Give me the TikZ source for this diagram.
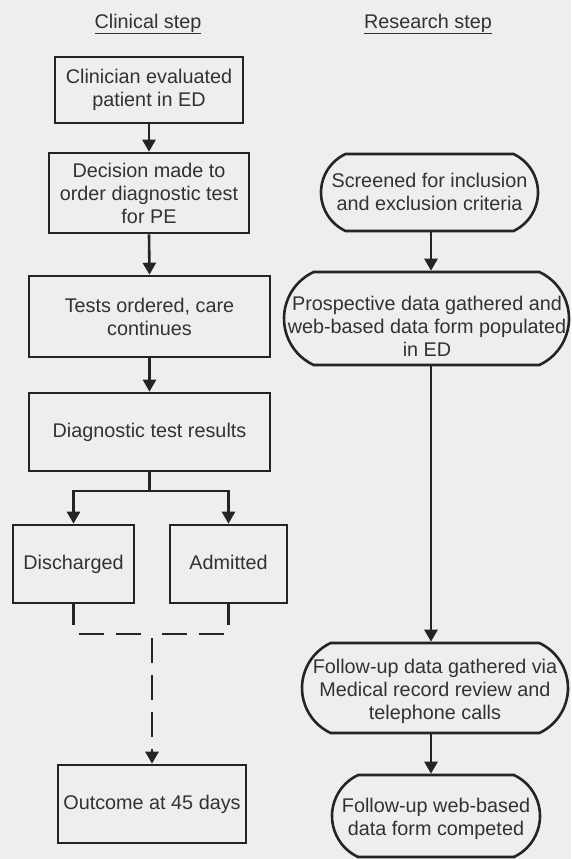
\documentclass[tikz,border=0pt]{standalone}
\usepackage{fontspec}
\setmainfont{Liberation Sans}
\usetikzlibrary{arrows.meta,shapes.misc}
\definecolor{paper}{RGB}{238,238,236}
\definecolor{ink}{RGB}{36,36,36}
\definecolor{txt}{RGB}{50,50,50}
\begin{document}
\begin{tikzpicture}[x=1pt,y=-1pt,
  box/.style={draw=ink,line width=2.6pt,rectangle,inner sep=0pt,text=txt,
    font=\fontsize{19.8}{23}\selectfont,align=center},
  pill/.style={draw=ink,line width=2.6pt,rounded rectangle,
    rounded rectangle arc length=130,inner sep=0pt},
  lbl/.style={text=txt,font=\fontsize{19.8}{23}\selectfont,align=center,inner sep=0pt},
  conn/.style={draw=ink,line width=2.6pt,-{Triangle[width=13pt,length=12pt]}},
  plain/.style={draw=ink,line width=2.6pt},
  dashline/.style={draw=ink,line width=2.6pt,dash pattern=on 25pt off 12pt}]
\fill[paper] (0,0) rectangle (571,859);
\useasboundingbox (0,0) rectangle (571,859);

% titles
\node[lbl] (ct) at (148,24) {\underline{Clinical step}};
\node[lbl] (rt) at (428,24) {\underline{Research step}};

% clinical column
\node[box,minimum width=188pt,minimum height=66pt] (b1) at (149,90) {Clinician evaluated\\patient in ED};
\node[box,minimum width=200pt,minimum height=80pt] (b2) at (149,193) {Decision made to\\order diagnostic test\\for PE};
\node[box,minimum width=241pt,minimum height=81pt] (b3) at (149.5,316.5) {Tests ordered, care\\continues};
\node[box,minimum width=241pt,minimum height=78pt] (b4) at (149.5,432) {Diagnostic test results};
\node[box,minimum width=121pt,minimum height=78pt,text height=14pt,text depth=4pt] (dis) at (73.5,564) {Discharged};
\node[box,minimum width=117pt,minimum height=78pt,text height=14pt,text depth=4pt] (adm) at (228.5,564) {Admitted};
\node[box,minimum width=188pt,minimum height=78pt] (out) at (152,804) {Outcome at 45 days};

\draw[conn] (b1.south) -- (b2.north);
\draw[conn] (b2.south) -- (b3.north);
\draw[conn] (b3.south) -- (b4.north);
\coordinate (sp) at (149.5,491);
\draw[plain] (b4.south) -- (sp);
\draw[conn] (sp) -| (dis.north);
\draw[conn] (sp) -| (adm.north);

\coordinate (dl) at (73.5,625);
\coordinate (ar) at (228.5,625);
\draw[plain] (dis.south) -- (dl);
\draw[plain] (adm.south) -- (ar);
\coordinate (hl1) at (79,634);
\coordinate (hl2) at (141,634);
\coordinate (hr1) at (162,634);
\coordinate (hr2) at (225,634);
\draw[dashline] (hl1) -- (hl2);
\draw[dashline] (hr1) -- (hr2);
\coordinate (vt) at (152,638);
\draw[dashline,-{Triangle[width=13pt,length=12pt]}] (vt) -- (out.north);

% research column
\node[pill,minimum width=217pt,minimum height=77pt] (r1) at (429.5,192.5) {};
\node[lbl] (r1t) at (429.5,192) {Screened for inclusion\\and exclusion criteria};
\node[pill,minimum width=285pt,minimum height=93pt] (r2) at (426.5,318.5) {};
\node[lbl] (r2t) at (427,326) {Prospective data gathered and\\web-based data form populated\\in ED};
\node[pill,minimum width=266pt,minimum height=90pt] (r3) at (435,688) {};
\node[lbl] (r3t) at (435,691) {Follow-up data gathered via\\Medical record review and\\telephone calls};
\node[pill,minimum width=208pt,minimum height=82pt] (r4) at (436,816) {};
\node[lbl] (r4t) at (436,819) {Follow-up web-based\\data form competed};

\coordinate (rx) at (431,0);
\draw[conn] (r1.south -| rx) -- (rx |- r2.north);
\draw[conn] (r2.south -| rx) -- (rx |- r3.north);
\draw[conn] (r3.south -| rx) -- (rx |- r4.north);
\end{tikzpicture}
\end{document}
